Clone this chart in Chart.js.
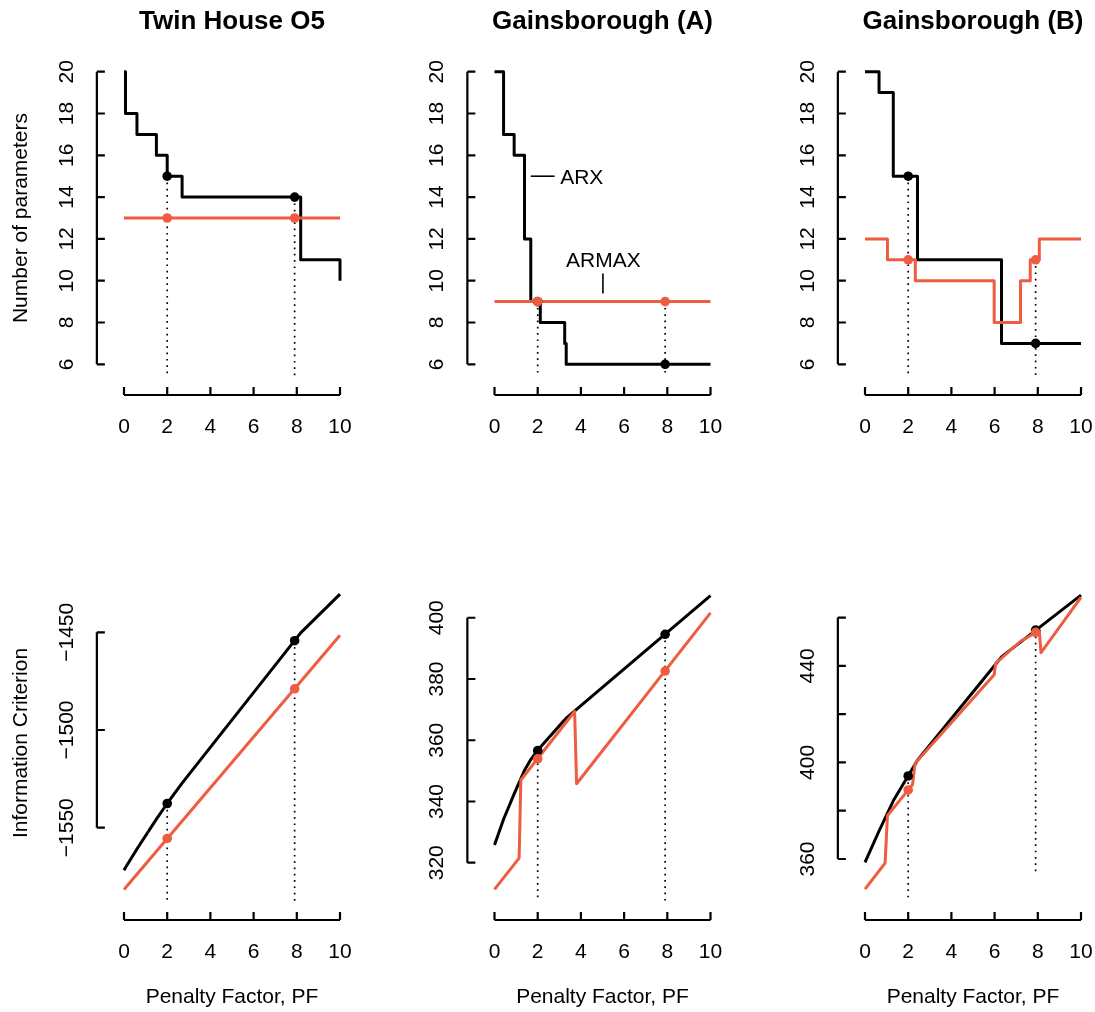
<!DOCTYPE html>
<html lang="en">
<head>
<meta charset="UTF-8" />
<title>Number of parameters and information criterion vs penalty factor</title>
<style>
  html, body { margin: 0; padding: 0; background: #fff; }
  #fig { position: relative; width: 1095px; height: 1012px; overflow: hidden; }
  #fig canvas { position: absolute; }
</style>
</head>
<body>
<div id="fig">
  <canvas id="twinNpar" width="365" height="506" style="left:0px;top:0px"></canvas>
  <canvas id="gainANpar" width="365" height="506" style="left:365px;top:0px"></canvas>
  <canvas id="gainBNpar" width="365" height="506" style="left:730px;top:0px"></canvas>
  <canvas id="twinIc" width="365" height="506" style="left:0px;top:506px"></canvas>
  <canvas id="gainAIc" width="365" height="506" style="left:365px;top:506px"></canvas>
  <canvas id="gainBIc" width="365" height="506" style="left:730px;top:506px"></canvas>
</div>

<script src="https://cdn.jsdelivr.net/npm/chart.js"></script>
<script>
  // ---- data ----
  const pfTicks = [0, 2, 4, 6, 8, 10];
  const pfSelected = [2, 7.9];
  const nparTicks = [6, 8, 10, 12, 14, 16, 18, 20];

  // Twin House O5 - number of parameters (step points)
  const twinArxPf = [0, 0.07, 0.6, 1.5, 2.0, 2.69, 8.18, 10];
  const twinArxNpar = [20, 18, 17, 16, 15, 14, 11, 10];
  const twinArmaxPf = [0, 10];
  const twinArmaxNpar = [13, 13];
  const twinArxSelNpar = [15, 14];
  const twinArmaxSelNpar = [13, 13];

  // Gainsborough (A) - number of parameters
  const gainAArxPf = [0, 0.42, 0.91, 1.39, 1.68, 2.12, 3.25, 3.32, 10];
  const gainAArxNpar = [20, 17, 16, 12, 9, 8, 7, 6, 6];
  const gainAArmaxPf = [0, 10];
  const gainAArmaxNpar = [9, 9];
  const gainAArxSelNpar = [9, 6];
  const gainAArmaxSelNpar = [9, 9];

  // Gainsborough (B) - number of parameters
  const gainBArxPf = [0, 0.65, 1.31, 2.43, 6.32, 10];
  const gainBArxNpar = [20, 19, 15, 11, 7, 7];
  const gainBArmaxPf = [0, 1.04, 2.33, 5.98, 7.2, 7.65, 8.07, 10];
  const gainBArmaxNpar = [12, 11, 10, 8, 10, 11, 12, 12];
  const gainBArxSelNpar = [15, 7];
  const gainBArmaxSelNpar = [11, 11];

  // Twin House O5 - information criterion
  const twinIcTicks = [-1550, -1500, -1450];
  const twinArxIcPf = [0, 0.07, 0.6, 1.5, 2.0, 2.69, 8.18, 10];
  const twinArxIc = [-1571.8, -1570.4, -1560.9, -1545.6, -1537.6, -1527.2, -1450.3, -1430.5];
  const twinArmaxIcPf = [0, 10];
  const twinArmaxIc = [-1581.6, -1451.5];
  const twinArxSelIc = [-1537.6, -1454.3];
  const twinArmaxSelIc = [-1555.5, -1478.9];

  // Gainsborough (A) - information criterion
  const gainAIcTicks = [320, 340, 360, 380, 400];
  const gainAArxIcPf = [0, 0.42, 0.91, 1.39, 1.68, 2.12, 3.25, 3.32, 10];
  const gainAArxIc = [325.8, 334.2, 342.5, 350.2, 353.7, 357.7, 366.7, 367.2, 407.2];
  const gainAArmaxIcPf = [0, 1.14, 1.22, 3.71, 3.80, 10];
  const gainAArmaxIc = [311.3, 321.5, 347.0, 369.4, 345.8, 401.6];
  const gainAArxSelIc = [356.6, 394.6];
  const gainAArmaxSelIc = [353.9, 382.6];

  // Gainsborough (B) - information criterion
  const gainBIcTicks = [360, 380, 400, 420, 440, 460];
  const gainBIcLabels = [360, 400, 440];
  const gainBArxIcPf = [0, 0.65, 1.31, 2.43, 6.32, 10];
  const gainBArxIc = [358.6, 371.6, 384.1, 400.9, 443.7, 469.3];
  const gainBArmaxIcPf = [0, 0.93, 1.04, 2.2, 2.32, 5.98, 6.05, 7.2, 7.65, 8.07, 8.15, 10];
  const gainBArmaxIc = [347.5, 358.3, 378.0, 390.8, 399.7, 436.3, 441.0, 450.2, 452.5, 454.5, 445.5, 468.4];
  const gainBArxSelIc = [394.4, 454.8];
  const gainBArmaxSelIc = [388.6, 453.9];

  // axis limits (R style, 4% extension)
  const pfLimits = [-0.4, 10.4];
  const nparLimits = [5.44, 20.56];
  const twinIcLimits = [-1587.5, -1425.8];
  const gainAIcLimits = [307.5, 410.7];
  const gainBIcLimits = [342.6, 473.5];

  const RED = '#EE5C42';
  const FONT = '"Liberation Sans", Arial, Helvetica, sans-serif';

  function fmt(v) {
    return v < 0 ? '\u2212' + Math.abs(v) : String(v);
  }

  function pts(xs, ys) {
    return xs.map((v, i) => ({ x: v, y: ys[i] }));
  }

  // R-like axes: offset from the plot region, ticks pointing inward
  const rAxes = {
    id: 'rAxes',
    afterDraw(chart, args, o) {
      const { ctx, chartArea: a, scales: { x, y } } = chart;
      ctx.save();
      ctx.strokeStyle = '#000';
      ctx.fillStyle = '#000';
      ctx.lineWidth = 2.2;
      ctx.font = '21px ' + FONT;

      // x axis
      const ay = a.bottom + 19;
      const xt = o.xTicks;
      ctx.beginPath();
      ctx.moveTo(x.getPixelForValue(xt[0]), ay);
      ctx.lineTo(x.getPixelForValue(xt[xt.length - 1]), ay);
      xt.forEach(v => {
        const px = x.getPixelForValue(v);
        ctx.moveTo(px, ay);
        ctx.lineTo(px, ay - 8);
      });
      ctx.stroke();
      ctx.textAlign = 'center';
      ctx.textBaseline = 'middle';
      xt.forEach(v => ctx.fillText(fmt(v), x.getPixelForValue(v), ay + 32));

      // y axis
      const ax = a.left - 18.5;
      const yt = o.yTicks;
      ctx.beginPath();
      ctx.moveTo(ax, y.getPixelForValue(yt[0]));
      ctx.lineTo(ax, y.getPixelForValue(yt[yt.length - 1]));
      yt.forEach(v => {
        const py = y.getPixelForValue(v);
        ctx.moveTo(ax, py);
        ctx.lineTo(ax + 8, py);
      });
      ctx.stroke();
      (o.yLabels || yt).forEach(v => {
        ctx.save();
        ctx.translate(ax - 30, y.getPixelForValue(v));
        ctx.rotate(-Math.PI / 2);
        ctx.fillText(fmt(v), 0, 0);
        ctx.restore();
      });

      const cx = (x.getPixelForValue(xt[0]) + x.getPixelForValue(xt[xt.length - 1])) / 2;

      if (o.xTitle) ctx.fillText(o.xTitle, cx, ay + 77);
      if (o.yTitle) {
        ctx.save();
        ctx.translate(21, (a.top + a.bottom) / 2);
        ctx.rotate(-Math.PI / 2);
        ctx.fillText(o.yTitle, 0, 0);
        ctx.restore();
      }

      // annotations (text + pointer segments)
      (o.notes || []).forEach(n => {
        if (n.text) {
          ctx.textAlign = n.align || 'center';
          ctx.fillText(n.text, x.getPixelForValue(n.x), y.getPixelForValue(n.y));
          ctx.textAlign = 'center';
        } else {
          ctx.lineWidth = 1.6;
          ctx.beginPath();
          ctx.moveTo(x.getPixelForValue(n.x0), y.getPixelForValue(n.y0));
          ctx.lineTo(x.getPixelForValue(n.x1), y.getPixelForValue(n.y1));
          ctx.stroke();
          ctx.lineWidth = 2.2;
        }
      });

      if (o.title) {
        ctx.font = 'bold 26px ' + FONT;
        ctx.fillText(o.title, cx, 22);
      }
      ctx.restore();
    }
  };

  function makePanel(id, p) {
    const line = (xs, ys, color, stepped, order) => ({
      data: pts(xs, ys), borderColor: color, borderWidth: 3, pointRadius: 0,
      stepped: stepped, tension: 0, fill: false, borderJoinStyle: 'round', order: order
    });
    const dots = (ys, color, order) => ({
      data: pts(pfSelected, ys), showLine: false, pointRadius: 4.8,
      pointBackgroundColor: color, pointBorderWidth: 0, order: order
    });
    const drops = pfSelected.map((v, i) => ({
      data: [{ x: v, y: Math.max(p.arxSel[i], p.armaxSel[i]) },
             { x: v, y: p.dropEnd ? p.dropEnd[i] : p.yLim[0] }],
      borderColor: '#000', borderWidth: 1.7, borderDash: [1.7, 4.6],
      pointRadius: 0, order: 3
    }));

    new Chart(document.getElementById(id), {
      type: 'line',
      data: {
        datasets: [
          line(p.arxPf, p.arx, '#000', p.stepped, 5),
          line(p.armaxPf, p.armax, RED, p.stepped, 4),
          ...drops,
          dots(p.arxSel, '#000', 2),
          dots(p.armaxSel, RED, 1)
        ]
      },
      options: {
        responsive: false,
        animation: false,
        events: [],
        layout: { padding: p.pad },
        scales: {
          x: { type: 'linear', display: false, min: pfLimits[0], max: pfLimits[1] },
          y: { type: 'linear', display: false, min: p.yLim[0], max: p.yLim[1] }
        },
        plugins: {
          legend: { display: false },
          tooltip: { enabled: false },
          rAxes: {
            xTicks: pfTicks, yTicks: p.yTicks, yLabels: p.yLabels,
            title: p.title, xTitle: p.xTitle, yTitle: p.yTitle, notes: p.notes
          }
        }
      },
      plugins: [rAxes]
    });
  }

  const padTop = [{ left: 115.36, right: 16.36, top: 60, bottom: 130 },
                  { left: 120.86, right: 10.86, top: 60, bottom: 130 },
                  { left: 126.36, right: 5.36, top: 60, bottom: 130 }];
  const padBottom = [{ left: 115.36, right: 16.36, top: 79, bottom: 111 },
                     { left: 120.86, right: 10.86, top: 79, bottom: 111 },
                     { left: 126.36, right: 5.36, top: 79, bottom: 111 }];

  makePanel('twinNpar', {
    title: 'Twin House O5', yTitle: 'Number of parameters', pad: padTop[0],
    yLim: nparLimits, yTicks: nparTicks, stepped: true,
    arxPf: twinArxPf, arx: twinArxNpar, armaxPf: twinArmaxPf, armax: twinArmaxNpar,
    arxSel: twinArxSelNpar, armaxSel: twinArmaxSelNpar
  });
  makePanel('gainANpar', {
    title: 'Gainsborough (A)', pad: padTop[1],
    yLim: nparLimits, yTicks: nparTicks, stepped: true,
    arxPf: gainAArxPf, arx: gainAArxNpar, armaxPf: gainAArmaxPf, armax: gainAArmaxNpar,
    arxSel: gainAArxSelNpar, armaxSel: gainAArmaxSelNpar,
    notes: [
      { x0: 1.68, y0: 15, x1: 2.78, y1: 15 },
      { text: 'ARX', x: 3.04, y: 14.9, align: 'left' },
      { x0: 5.02, y0: 9.39, x1: 5.02, y1: 10.35 },
      { text: 'ARMAX', x: 5.04, y: 10.91 }
    ]
  });
  makePanel('gainBNpar', {
    title: 'Gainsborough (B)', pad: padTop[2],
    yLim: nparLimits, yTicks: nparTicks, stepped: true,
    arxPf: gainBArxPf, arx: gainBArxNpar, armaxPf: gainBArmaxPf, armax: gainBArmaxNpar,
    arxSel: gainBArxSelNpar, armaxSel: gainBArmaxSelNpar
  });
  makePanel('twinIc', {
    xTitle: 'Penalty Factor, PF', yTitle: 'Information Criterion', pad: padBottom[0],
    yLim: twinIcLimits, yTicks: twinIcTicks, stepped: false,
    arxPf: twinArxIcPf, arx: twinArxIc, armaxPf: twinArmaxIcPf, armax: twinArmaxIc,
    arxSel: twinArxSelIc, armaxSel: twinArmaxSelIc
  });
  makePanel('gainAIc', {
    xTitle: 'Penalty Factor, PF', pad: padBottom[1],
    yLim: gainAIcLimits, yTicks: gainAIcTicks, stepped: false,
    arxPf: gainAArxIcPf, arx: gainAArxIc, armaxPf: gainAArmaxIcPf, armax: gainAArmaxIc,
    arxSel: gainAArxSelIc, armaxSel: gainAArmaxSelIc
  });
  makePanel('gainBIc', {
    xTitle: 'Penalty Factor, PF', pad: padBottom[2],
    yLim: gainBIcLimits, yTicks: gainBIcTicks, yLabels: gainBIcLabels, stepped: false,
    arxPf: gainBArxIcPf, arx: gainBArxIc, armaxPf: gainBArmaxIcPf, armax: gainBArmaxIc,
    arxSel: gainBArxSelIc, armaxSel: gainBArmaxSelIc,
    dropEnd: [gainBIcLimits[0], 354.3]
  });
</script>
</body>
</html>
